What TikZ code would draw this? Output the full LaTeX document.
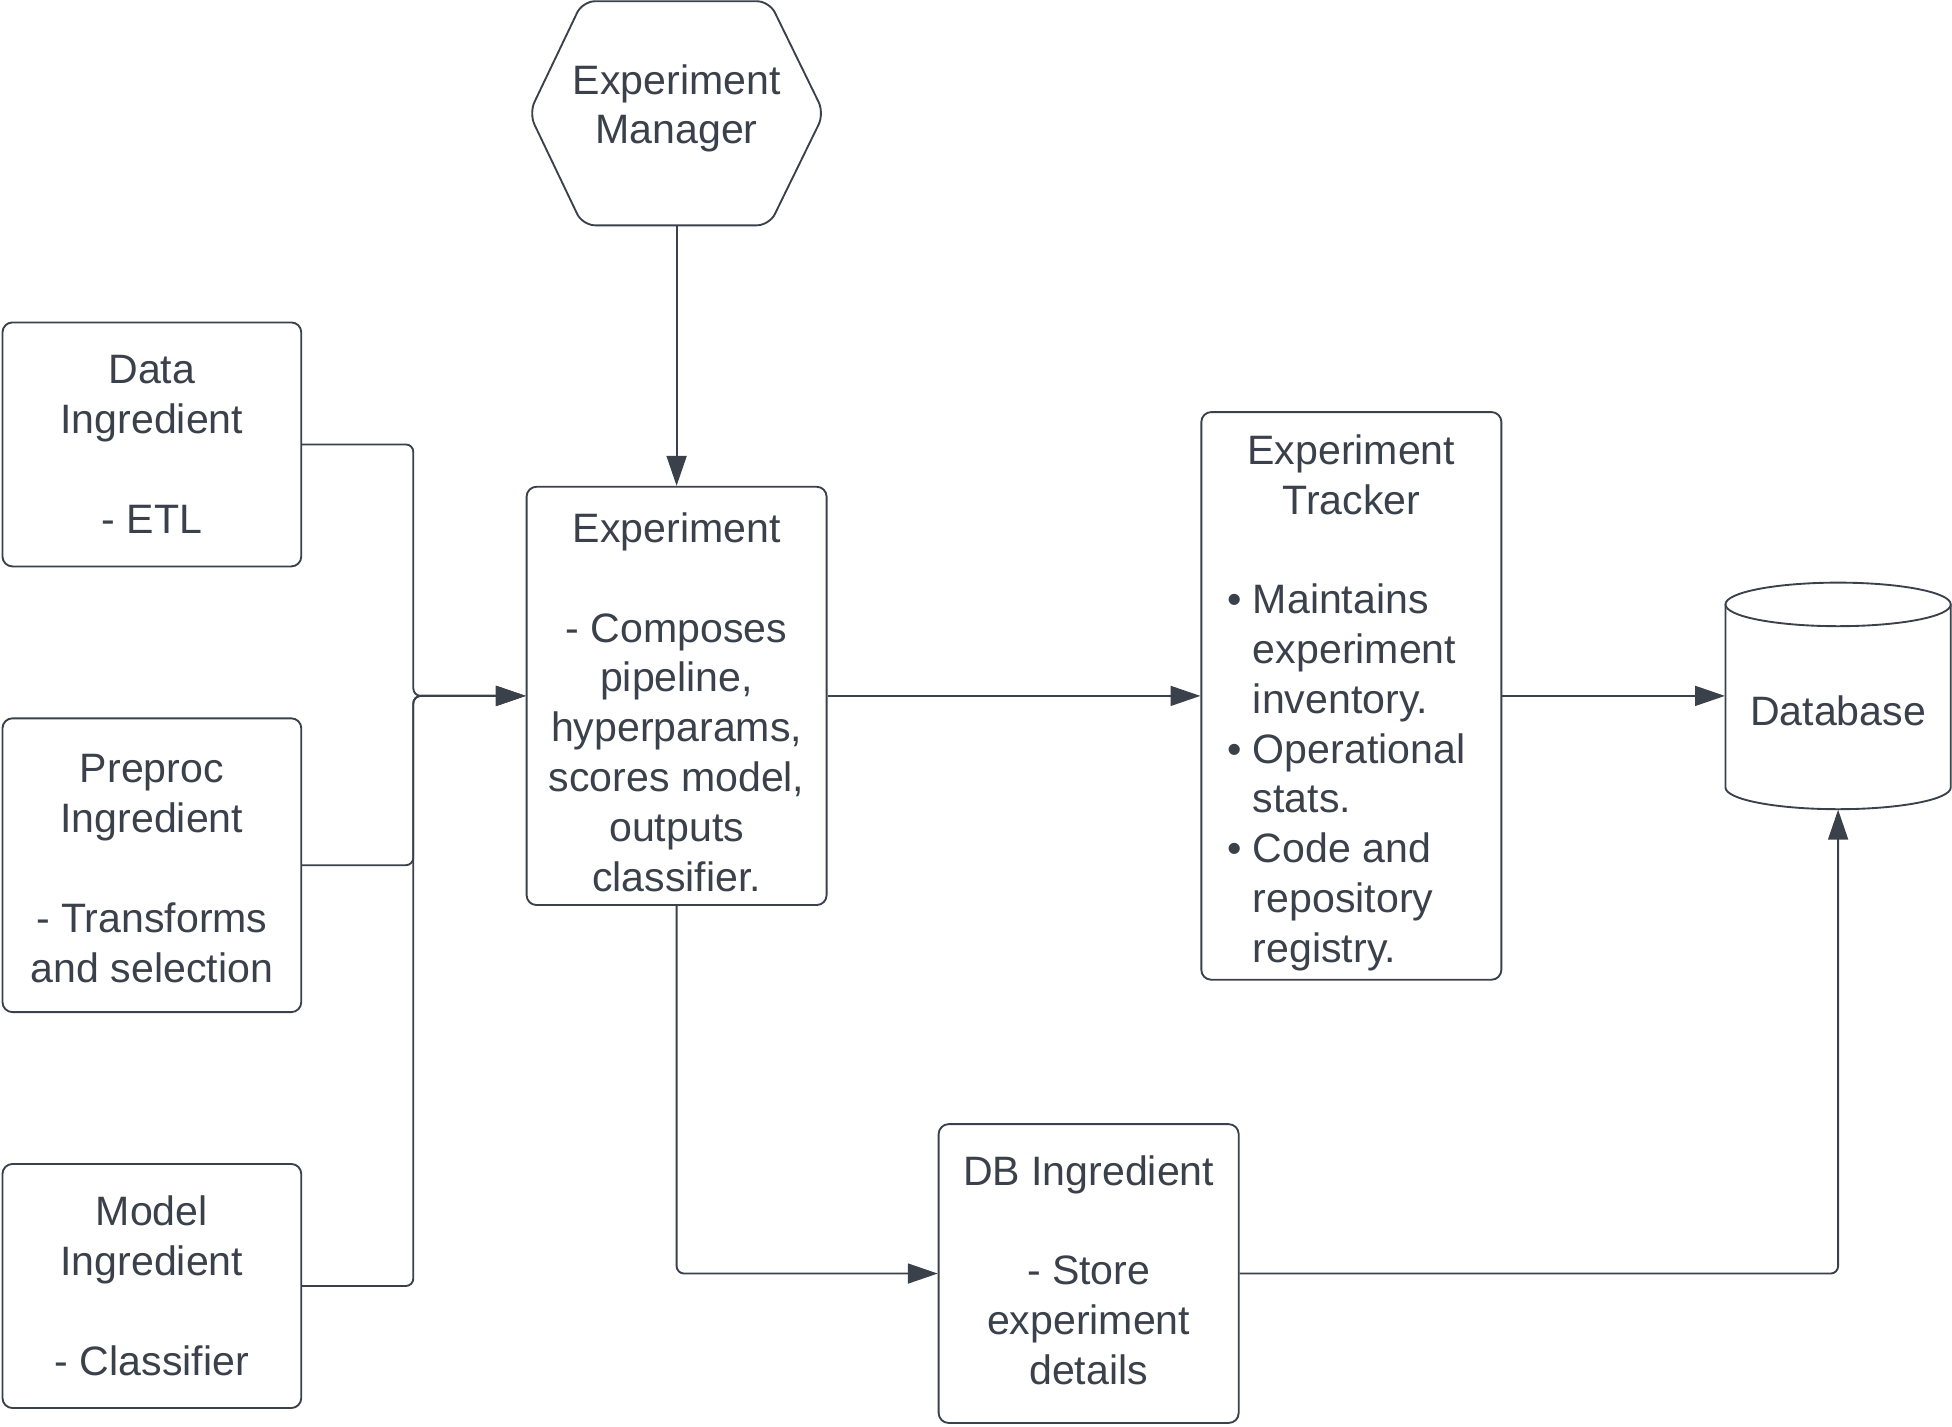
\documentclass[tikz,border=0pt]{standalone}
\usepackage{fontspec}
\setmainfont{Liberation Sans}
\usetikzlibrary{arrows.meta}
\definecolor{ink}{HTML}{3A414A}
\begin{document}
\begin{tikzpicture}[x=0.5pt,y=-0.5pt,
  every node/.style={text=ink, font=\fontsize{16.5}{20}\selectfont, align=center, inner sep=2pt},
  box/.style={draw=ink, line width=0.75pt, rounded corners=4pt},
  outline/.style={draw=ink, line width=0.75pt},
  conn/.style={draw=ink, line width=0.75pt, rounded corners=3pt, -{Triangle[length=12pt,width=8pt]}}]
\useasboundingbox (0,0) rectangle (1568,1146);

% Experiment Manager (hexagon)
\node[minimum width=118.5pt, minimum height=90pt, inner sep=0pt] (mgr) at (543.5,91) {};
\draw[outline, rounded corners=5pt] (543,1) -- (618,1) -- (662,91) -- (618,181) -- (468,181) -- (425,91) -- (468,1) -- cycle;
\node (mgrtext) at (543.5,87) {Experiment\\Manager};

% Ingredient boxes
\node[box, minimum width=120pt, minimum height=98pt] (data) at (122,357) {Data\\Ingredient\\[20pt]- ETL};
\node[box, minimum width=120pt, minimum height=118pt] (pre) at (122,695) {\rule{0pt}{14pt}Preproc\\Ingredient\\[20pt]- Transforms\\and selection};
\node[box, minimum width=120pt, minimum height=98pt] (model) at (122,1033) {Model\\Ingredient\\[20pt]- Classifier};

% Experiment
\node[box, minimum width=120.5pt, minimum height=168pt] (exp) at (543.5,559) {\rule{0pt}{17pt}Experiment\\[20pt]- Composes\\pipeline,\\hyperparams,\\scores model,\\outputs\\classifier.};

% Experiment Tracker
\node[box, inner sep=0pt, minimum width=120.5pt, minimum height=228pt] (trk) at (1085.5,559) {\begin{tabular}{@{}l@{\hspace{4.5pt}}l@{\hspace{4pt}}}\multicolumn{2}{c}{\rule{0pt}{20pt}Experiment}\\ \multicolumn{2}{c}{Tracker}\\ & \\ \textbullet & Maintains\\ & experiment\\ & inventory.\\ \textbullet & Operational\\ & stats.\\ \textbullet & Code and\\ & repository\\ & registry.\end{tabular}};

% DB Ingredient
\node[box, minimum width=120.5pt, minimum height=120pt] (dbi) at (874.5,1023) {DB Ingredient\\[20pt]- Store\\experiment\\details\rule[-3pt]{0pt}{3pt}};

% Database (cylinder)
\node[minimum width=90.5pt, minimum height=91pt, inner sep=0pt] (db) at (1476.5,559) {};
\draw[outline] (1386,485.5) -- (1386,632.5) arc[start angle=180, end angle=360, x radius=45.25pt, y radius=8.75pt] -- (1567,485.5);
\draw[outline] (1476.5,485.5) ellipse[x radius=45.25pt, y radius=8.75pt];
\node (dbtext) at (1476.5,571) {Database};

% Connectors
\coordinate (bus) at (332,559);
\draw[conn] (mgr.south) -- (exp.north);
\draw[conn] (data.east) -| (bus) -- (exp.west);
\draw[conn] (pre.east) -| (bus) -- (exp.west);
\draw[conn] (model.east) -| (bus) -- (exp.west);
\draw[conn] (exp.east) -- (trk.west);
\draw[conn] (trk.east) -- (db.west);
\draw[conn] (exp.south) |- (dbi.west);
\draw[conn] (dbi.east) -| (db.south);
\end{tikzpicture}
\end{document}
